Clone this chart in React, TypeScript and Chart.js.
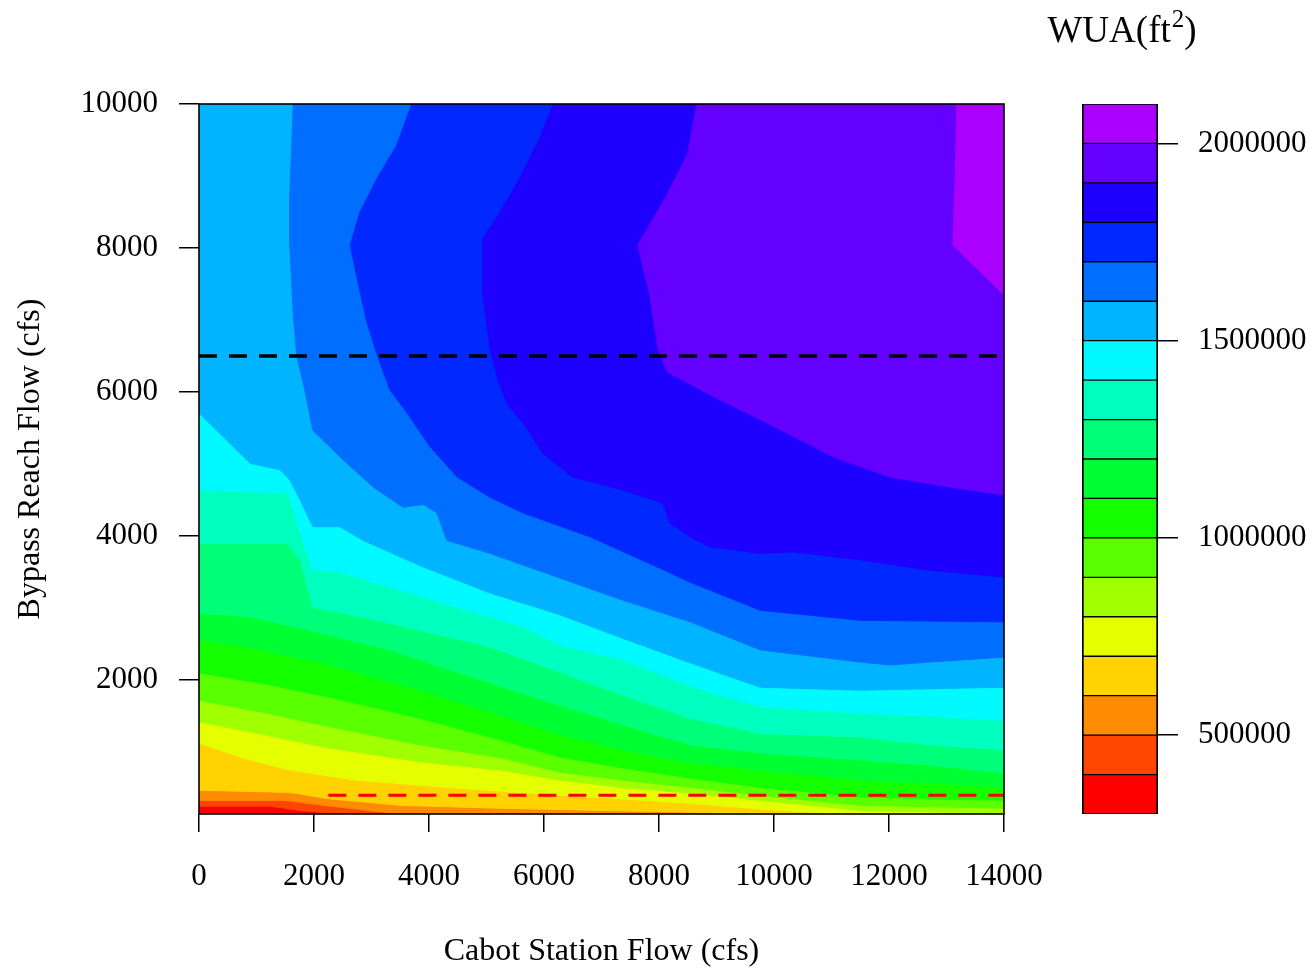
import React, { useEffect, useRef } from 'react';
import { Chart, registerables } from 'chart.js';

Chart.register(...registerables);

const FONT = "'Liberation Serif', 'Times New Roman', serif";

// Axis extents (cfs)
const X_MIN = 0;
const X_MAX = 14000;
const Y_MIN = 140;
const Y_MAX = 10000;

const xTicks = [0, 2000, 4000, 6000, 8000, 10000, 12000, 14000];
const yTicks = [2000, 4000, 6000, 8000, 10000];

// Contour band lower bounds (WUA, ft^2) and colour-key
const levels = [
  300000, 400000, 500000, 600000, 700000, 800000, 900000, 1000000, 1100000,
  1200000, 1300000, 1400000, 1500000, 1600000, 1700000, 1800000, 1900000, 2000000,
];
const legendMax = 2100000;
const legendTicks = [500000, 1000000, 1500000, 2000000];
const legendTitle = ['WUA(ft', '2', ')'];
const bandColors = [
  '#ff0000', '#ff4600', '#ff8c00', '#ffd200', '#e6ff00', '#a0ff00', '#5aff00', '#14ff00', '#00ff32',
  '#00ff78', '#00ffbe', '#00faff', '#00b4ff', '#006eff', '#0028ff', '#1e00ff', '#6400ff', '#aa00ff',
];

// Contour lines [Cabot Station Flow, Bypass Reach Flow]; region >= level lies above/right
const wua400k = [[0, 250], [1235, 250], [1757, 190], [2452, 140]];
const wua500k = [[0, 330], [1500, 330], [2280, 250], [3500, 140]];
const wua600k = [[0, 470], [1580, 440], [2280, 350], [3500, 260], [5240, 220], [6970, 190], [8370, 170], [9410, 140]];
const wua700k = [[0, 1130], [710, 930], [1580, 750], [2750, 610], [4490, 500], [6280, 400], [7370, 350], [8540, 290], [9760, 210], [10970, 150], [11500, 140]];
const wua800k = [[0, 1420], [1010, 1260], [2160, 1070], [3900, 860], [5240, 750], [6280, 610], [7370, 510], [8540, 430], [9760, 330], [11500, 190], [12710, 170], [13760, 140]];
const wua900k = [[0, 1720], [1060, 1560], [2280, 1350], [3840, 1100], [5240, 920], [6280, 720], [7370, 610], [8540, 510], [9760, 400], [11500, 260], [12710, 240], [14000, 220]];
const wua1000k = [[0, 2100], [1060, 1960], [2280, 1760], [3840, 1470], [5240, 1170], [6280, 930], [7370, 780], [8540, 640], [9760, 510], [11500, 380], [12710, 350], [14000, 330]];
const wua1100k = [[0, 2560], [1060, 2420], [2280, 2210], [3840, 1860], [5240, 1510], [6280, 1240], [7370, 1030], [8540, 850], [9760, 750], [11500, 610], [12710, 570], [14000, 510]];
const wua1200k = [[0, 2930], [890, 2880], [1930, 2690], [3320, 2420], [5060, 1960], [6280, 1650], [7370, 1380], [8540, 1100], [9760, 990], [11500, 890], [12710, 820], [14000, 710]];
const wua1300k = [[0, 3900], [1530, 3900], [1760, 3670], [1980, 3010], [2450, 2940], [3320, 2790], [5060, 2460], [6280, 2110], [7370, 1790], [8540, 1470], [9760, 1260], [11500, 1210], [12710, 1100], [14000, 1030]];
const wua1400k = [[0, 4640], [1530, 4600], [1580, 4540], [1760, 4040], [1980, 3530], [2450, 3500], [3900, 3150], [5640, 2740], [6280, 2490], [7370, 2280], [8540, 1920], [9760, 1630], [11500, 1540], [12710, 1500], [14000, 1440]];
const wua1500k = [[0, 5710], [420, 5380], [890, 5010], [1410, 4920], [1580, 4780], [1760, 4500], [1980, 4130], [2450, 4130], [2850, 3940], [3900, 3570], [5060, 3210], [6230, 2920], [7370, 2580], [8540, 2240], [9760, 1900], [11500, 1860], [12710, 1880], [14000, 1900]];
const wua1600k = [[1640, 10000], [1580, 8740], [1580, 8040], [1640, 7070], [1700, 6510], [1840, 6030], [1980, 5470], [2450, 5100], [3030, 4680], [3550, 4400], [3900, 4440], [4140, 4320], [4310, 3940], [5060, 3760], [6230, 3430], [7370, 3110], [8540, 2810], [9760, 2420], [11500, 2250], [12020, 2210], [12710, 2250], [14000, 2320]];
const wua1700k = [[3700, 10000], [3440, 9430], [3100, 8970], [2800, 8500], [2630, 8040], [2750, 7580], [2920, 6970], [3100, 6510], [3320, 6030], [3620, 5710], [4020, 5240], [4490, 4820], [5060, 4540], [5640, 4320], [6800, 3990], [7970, 3570], [8540, 3360], [9760, 2970], [11500, 2830], [12710, 2820], [14000, 2810]];
const wua1800k = [[6160, 10000], [5930, 9530], [5580, 8970], [5240, 8500], [4940, 8140], [4940, 7350], [5060, 6610], [5200, 6170], [5370, 5820], [5640, 5570], [5980, 5150], [6500, 4820], [7370, 4640], [8070, 4460], [8190, 4180], [8540, 3990], [8890, 3850], [9760, 3760], [10330, 3780], [11500, 3670], [12660, 3530], [14000, 3430]];
const wua1900k = [[8660, 10000], [8490, 9290], [8140, 8740], [7630, 8040], [7840, 7350], [7980, 6610], [8140, 6280], [8890, 5960], [9880, 5570], [11030, 5100], [12020, 4820], [13060, 4680], [14000, 4570]];
const wua2000k = [[13180, 10000], [13150, 8940], [13110, 8040], [14000, 7350]];

const contourLines = [
  wua400k, wua500k, wua600k, wua700k, wua800k, wua900k, wua1000k, wua1100k, wua1200k,
  wua1300k, wua1400k, wua1500k, wua1600k, wua1700k, wua1800k, wua1900k, wua2000k,
];

// Reference flows (dashed lines)
const upperRefFlow = 6500;
const lowerRefFlow = 400;
const lowerRefStart = 2250;

type P = { x: number; y: number };

function regionPolygon(line: number[][] | null): P[] {
  if (!line) {
    return [
      { x: X_MIN, y: Y_MIN }, { x: X_MAX, y: Y_MIN }, { x: X_MAX, y: Y_MAX },
      { x: X_MIN, y: Y_MAX }, { x: X_MIN, y: Y_MIN },
    ];
  }
  const pts: P[] = line.map(([x, y]) => ({ x, y }));
  const first = pts[0];
  const last = pts[pts.length - 1];
  if (last.y <= Y_MIN && last.x < X_MAX) pts.push({ x: X_MAX, y: Y_MIN });
  pts.push({ x: X_MAX, y: Y_MAX });
  if (first.y < Y_MAX) pts.push({ x: X_MIN, y: Y_MAX });
  pts.push({ x: first.x, y: first.y });
  return pts;
}

const framePlugin = {
  id: 'frame',
  afterDatasetsDraw(chart: any) {
    const { ctx, chartArea } = chart;
    ctx.save();
    ctx.strokeStyle = '#000';
    ctx.lineWidth = 1.6;
    ctx.strokeRect(chartArea.left, chartArea.top, chartArea.right - chartArea.left, chartArea.bottom - chartArea.top);
    ctx.restore();
  },
};

const legendTitlePlugin = {
  id: 'legendTitle',
  afterDraw(chart: any) {
    const { ctx, chartArea } = chart;
    const big = `37px ${FONT}`;
    const small = `25px ${FONT}`;
    ctx.save();
    ctx.fillStyle = '#000';
    ctx.textBaseline = 'alphabetic';
    ctx.textAlign = 'left';
    ctx.font = big;
    const w0 = ctx.measureText(legendTitle[0]).width;
    const w2 = ctx.measureText(legendTitle[2]).width;
    ctx.font = small;
    const w1 = ctx.measureText(legendTitle[1]).width;
    const total = w0 + w1 + w2 + 1;
    const cx = (chartArea.left + chartArea.right) / 2 + 2;
    let x = cx - total / 2;
    const base = 42;
    ctx.font = big;
    ctx.fillText(legendTitle[0], x, base);
    x += w0 + 1;
    ctx.font = small;
    ctx.fillText(legendTitle[1], x, base - 15);
    x += w1;
    ctx.font = big;
    ctx.fillText(legendTitle[2], x, base);
    ctx.restore();
  },
};

function mainConfig(): any {
  const regions = levels.map((lv, i) => ({
    label: String(lv),
    data: regionPolygon(i === 0 ? null : contourLines[i - 1]),
    backgroundColor: bandColors[i],
    borderColor: bandColors[i],
    borderWidth: 1,
    fill: 'shape',
    pointRadius: 0,
    tension: 0,
    order: 100 - i,
  }));
  const dashes = [
    {
      label: 'upper',
      data: [{ x: X_MIN, y: upperRefFlow }, { x: X_MAX, y: upperRefFlow }],
      borderColor: '#000',
      borderWidth: 3.5,
      borderDash: [18, 12],
      fill: false,
      pointRadius: 0,
      order: 0,
    },
    {
      label: 'lower',
      data: [{ x: lowerRefStart, y: lowerRefFlow }, { x: X_MAX, y: lowerRefFlow }],
      borderColor: '#ff0000',
      borderWidth: 3,
      borderDash: [18, 12],
      fill: false,
      pointRadius: 0,
      order: 0,
    },
  ];
  const tickFont = { family: FONT, size: 31 };
  const titleFont = { family: FONT, size: 32, lineHeight: 1.05 };
  return {
    type: 'line',
    data: { datasets: [...regions, ...dashes] },
    options: {
      responsive: false,
      animation: false,
      events: [],
      layout: { padding: { top: 104, right: 311, left: 0, bottom: 0 } },
      plugins: { legend: { display: false }, tooltip: { enabled: false } },
      scales: {
        x: {
          type: 'linear',
          min: X_MIN,
          max: X_MAX,
          afterFit: (s: any) => { s.height = 154; },
          afterBuildTicks: (s: any) => { s.ticks = xTicks.map((v) => ({ value: v })); },
          grid: { drawOnChartArea: false, drawTicks: true, tickLength: 18, color: '#000', lineWidth: 1.5 },
          border: { display: false },
          ticks: { color: '#000', font: tickFont, padding: 26, maxRotation: 0, autoSkip: false, callback: (v: any) => String(v) },
          title: { display: true, text: 'Cabot Station Flow (cfs)', color: '#000', font: titleFont, padding: { top: 0, bottom: 0 } },
        },
        y: {
          type: 'linear',
          min: Y_MIN,
          max: Y_MAX,
          afterFit: (s: any) => { s.width = 199; },
          afterBuildTicks: (s: any) => { s.ticks = yTicks.map((v) => ({ value: v })); },
          grid: { drawOnChartArea: false, drawTicks: true, tickLength: 20, color: '#000', lineWidth: 1.5 },
          border: { display: false },
          ticks: { color: '#000', font: tickFont, padding: 21, autoSkip: false, callback: (v: any) => String(v) },
          title: { display: true, text: 'Bypass Reach Flow (cfs)', color: '#000', font: { family: FONT, size: 32 }, padding: { top: 11, bottom: 0 } },
        },
      },
    },
    plugins: [framePlugin],
  };
}

function legendConfig(): any {
  const datasets = bandColors.map((c, i) => ({
    label: String(levels[i]),
    data: [[levels[i], i + 1 < levels.length ? levels[i + 1] : legendMax]],
    backgroundColor: c,
    borderColor: '#000',
    borderWidth: { top: 1, bottom: 1, left: 2, right: 2 },
    borderSkipped: false,
    grouped: false,
    barPercentage: 1,
    categoryPercentage: 1,
  }));
  return {
    type: 'bar',
    data: { labels: ['WUA'], datasets },
    options: {
      responsive: false,
      animation: false,
      events: [],
      layout: { padding: { left: 1082, top: 104, right: 0, bottom: 154 } },
      plugins: {
        legend: { display: false },
        tooltip: { enabled: false },
      },
      scales: {
        x: { display: false },
        y: {
          position: 'right',
          min: levels[0],
          max: legendMax,
          afterFit: (s: any) => { s.width = 157; },
          afterBuildTicks: (s: any) => { s.ticks = legendTicks.map((v) => ({ value: v })); },
          grid: { drawOnChartArea: false, drawTicks: true, tickLength: 20, color: '#000', lineWidth: 1.5 },
          border: { display: false },
          ticks: { color: '#000', font: { family: FONT, size: 31 }, padding: 20, autoSkip: false, callback: (v: any) => String(v) },
        },
      },
    },
    plugins: [legendTitlePlugin],
  };
}

export default function App() {
  const mainRef = useRef<HTMLCanvasElement>(null);
  const legendRef = useRef<HTMLCanvasElement>(null);
  useEffect(() => {
    const main = new Chart(mainRef.current as HTMLCanvasElement, mainConfig());
    const legend = new Chart(legendRef.current as HTMLCanvasElement, legendConfig());
    return () => {
      main.destroy();
      legend.destroy();
    };
  }, []);
  return (
    <div style={{ position: 'absolute', left: 0, top: 0, width: 1315, height: 968, background: '#fff' }}>
      <canvas ref={mainRef} width={1315} height={968} style={{ position: 'absolute', left: 0, top: 0 }} />
      <canvas ref={legendRef} width={1315} height={968} style={{ position: 'absolute', left: 0, top: 0 }} />
    </div>
  );
}
